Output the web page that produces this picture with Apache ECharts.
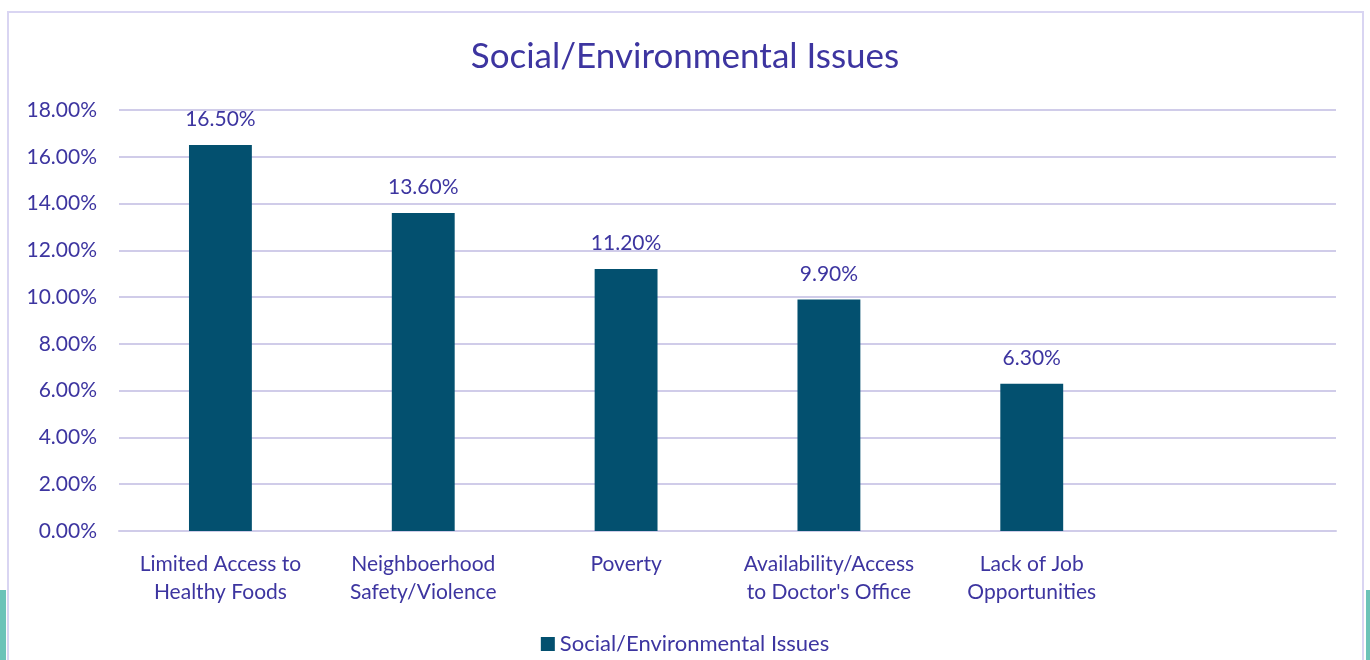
<!DOCTYPE html>
<html><head><meta charset="utf-8">
<script src="https://cdn.jsdelivr.net/npm/echarts@6/dist/echarts.min.js"></script>
<style>
html,body{margin:0;padding:0;background:#fff;overflow:hidden}
#wrap{position:relative;width:1370px;height:660px}
#c{position:absolute;left:0;top:0;width:1370px;height:660px}
.strip{position:absolute;background:#6cc3b8}
.border{position:absolute;left:7px;top:11px;width:1357px;height:660px;border:2px solid #d9d5f2;box-sizing:border-box}
</style></head>
<body>
<div id="wrap">
<div class="strip" style="left:0;top:590px;width:6px;height:70px"></div>
<div class="strip" style="left:1366px;top:590px;width:4px;height:70px"></div>
<div class="border"></div>
<div id="c"></div>
</div>
<script>
const categories = ["Limited Access to\nHealthy Foods", "Neighboerhood\nSafety/Violence", "Poverty", "Availability/Access\nto Doctor's Office", "Lack of Job\nOpportunities", ""];
const values = [16.5, 13.6, 11.2, 9.9, 6.3, null];
const seriesName = "Social/Environmental Issues";
const titleText = "Social/Environmental Issues";

const txt = '#3d35a0';
const font = 'Lato, "Open Sans", sans-serif';
const chart = echarts.init(document.getElementById('c'), null, {renderer: 'canvas'});
chart.setOption({
  animation: false,
  backgroundColor: 'transparent',
  textStyle: {fontFamily: font},
  title: {text: titleText, left: 'center', top: 34, textStyle: {color: txt, fontSize: 35, fontWeight: 'normal', fontFamily: font}},
  legend: {bottom: 0, left: 'center', itemWidth: 14, itemHeight: 14, itemGap: 5, icon: 'rect',
    textStyle: {color: txt, fontSize: 22, fontFamily: font}, data: [seriesName]},
  grid: {left: 119, right: 34, top: 110, bottom: 129, containLabel: false},
  xAxis: {type: 'category', data: categories,
    axisLine: {show: true, lineStyle: {color: '#d0cce9', width: 2}},
    axisTick: {show: false},
    axisLabel: {color: txt, fontSize: 21, fontFamily: font, margin: 19, lineHeight: 28, interval: 0}},
  yAxis: {type: 'value', min: 0, max: 18, interval: 2,
    axisLine: {show: false}, axisTick: {show: false},
    splitLine: {lineStyle: {color: '#d0cce9', width: 2}},
    axisLabel: {color: txt, fontSize: 21, fontFamily: font, margin: 22,
      formatter: v => v.toFixed(2) + '%'}},
  series: [{name: seriesName, type: 'bar', data: values, barWidth: '31%',
    itemStyle: {color: '#03506f'},
    label: {show: true, position: 'top', distance: 15, color: txt, fontSize: 21, fontFamily: font,
      formatter: p => p.value == null ? '' : p.value.toFixed(2) + '%'}}]
});
</script>
</body></html>
